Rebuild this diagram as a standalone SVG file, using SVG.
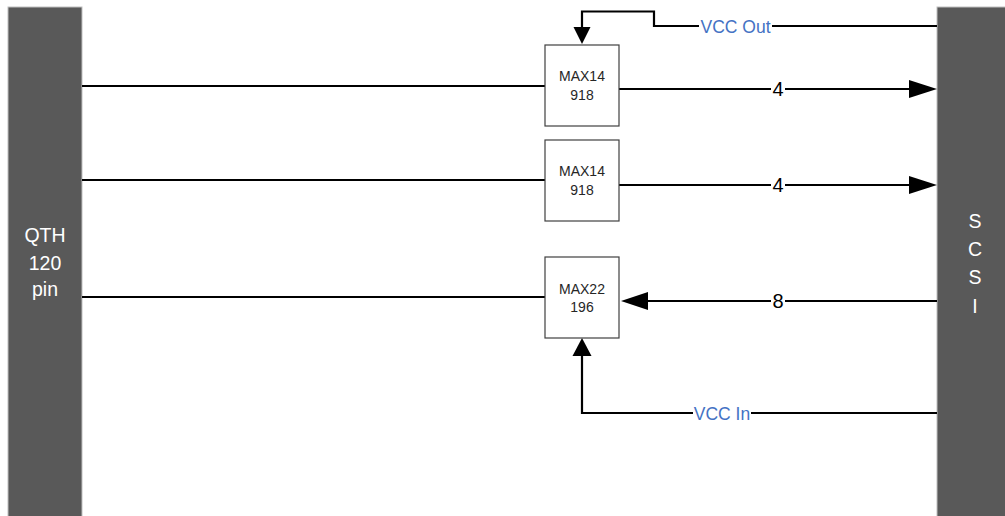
<svg xmlns="http://www.w3.org/2000/svg" width="1005" height="516" viewBox="0 0 1005 516">
<style>
.bar{fill:#595959;stroke:#bfbfbf;stroke-width:1}
.bartxt{fill:#ffffff;font-family:"Liberation Sans",Arial,sans-serif;font-size:19.5px;text-anchor:middle}
.chip{fill:#ffffff;stroke:#404040;stroke-width:1.2}
.chiptxt{fill:#262626;font-family:"Liberation Sans",Arial,sans-serif;font-size:14px;text-anchor:middle}
.wire{fill:none;stroke:#000000;stroke-width:2.2}
.head{fill:#000000}
.lbl{font-family:"Liberation Sans",Arial,sans-serif;text-anchor:middle}
.num{fill:#000000;font-size:20px}
.vcc{fill:#4472c4;font-size:17.5px}
.bg{fill:#ffffff}
</style>
<rect width="1005" height="516" fill="#ffffff"/>
<g id="qth">
<rect class="bar" x="8" y="7" width="74" height="520"/>
<text class="bartxt" x="45" y="242">QTH</text>
<text class="bartxt" x="45" y="270">120</text>
<text class="bartxt" x="45" y="296">pin</text>
</g>
<g id="scsi">
<rect class="bar" x="937" y="7" width="80" height="520"/>
<text class="bartxt" x="975" y="228">S</text>
<text class="bartxt" x="975" y="256">C</text>
<text class="bartxt" x="975" y="284">S</text>
<text class="bartxt" x="975" y="313">I</text>
</g>
<g id="connectors">
<path class="wire" d="M82,86 H545"/>
<path class="wire" d="M619,89 H910"/>
<polygon class="head" points="937,89 909,80 909,98"/>
<rect class="bg" x="771" y="80" width="14" height="18"/>
<text class="lbl num" x="778" y="96">4</text>

<path class="wire" d="M82,180 H545"/>
<path class="wire" d="M619,185 H910"/>
<polygon class="head" points="937,185 909,176 909,194"/>
<rect class="bg" x="771" y="176" width="14" height="18"/>
<text class="lbl num" x="778" y="192">4</text>

<path class="wire" d="M82,297 H545"/>
<path class="wire" d="M937,301 H646"/>
<polygon class="head" points="621,301 648,292 648,310"/>
<rect class="bg" x="771" y="292" width="14" height="18"/>
<text class="lbl num" x="778" y="308">8</text>

<path class="wire" d="M937,26 H654 V11.5 H582 V29"/>
<polygon class="head" points="582,44 573.5,27 590.5,27"/>
<rect class="bg" x="699" y="16" width="73" height="20"/>
<text class="lbl vcc" x="735.5" y="32.5">VCC Out</text>

<path class="wire" d="M937,413 H582 V354"/>
<polygon class="head" points="582,338 572.5,356 591.5,356"/>
<rect class="bg" x="693" y="403" width="58" height="20"/>
<text class="lbl vcc" x="722" y="419.5">VCC In</text>
</g>
<g id="max14918a">
<rect class="chip" x="545" y="45" width="74" height="81"/>
<text class="chiptxt" x="582" y="81">MAX14</text>
<text class="chiptxt" x="582" y="100">918</text>
</g>
<g id="max14918b">
<rect class="chip" x="545" y="140" width="74" height="81"/>
<text class="chiptxt" x="582" y="176">MAX14</text>
<text class="chiptxt" x="582" y="195">918</text>
</g>
<g id="max22196">
<rect class="chip" x="545" y="257" width="74" height="81"/>
<text class="chiptxt" x="582" y="294">MAX22</text>
<text class="chiptxt" x="582" y="312">196</text>
</g>
</svg>
